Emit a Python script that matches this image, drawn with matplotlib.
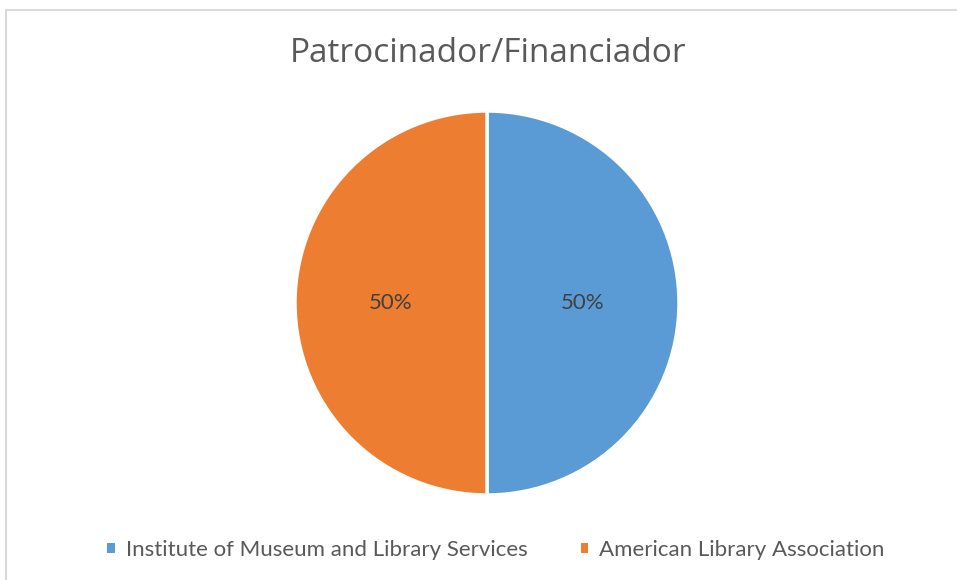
import matplotlib
matplotlib.use("Agg")

import matplotlib.pyplot as plt
from matplotlib.patches import Rectangle, Patch

title = "Patrocinador/Financiador"
labels = ["Institute of Museum and Library Services", "American Library Association"]
values = [50, 50]
colors = ["#5B9BD5", "#ED7D31"]

plt.rcParams["font.family"] = ["Lato", "DejaVu Sans"]

fig = plt.figure(figsize=(9.57, 5.8), dpi=100)
fig.patch.set_facecolor("white")

# marco (solo arriba e izquierda se ven en el recorte)
fig.patches.append(Rectangle((6 / 957, -0.05), 1.1, (570 / 580) + 0.05,
                             transform=fig.transFigure, fill=False,
                             edgecolor="#D9D9D9", linewidth=1.5))

ax = fig.add_axes([295 / 957, 85 / 580, 384 / 957, 384 / 580])
wedges, texts, autotexts = ax.pie(
    values, colors=colors, startangle=90, counterclock=False,
    autopct="%1.0f%%", pctdistance=0.5, radius=1,
    wedgeprops=dict(edgecolor="white", linewidth=2.5),
    textprops=dict(color="#404040", fontsize=16),
)
ax.set_xlim(-1, 1)
ax.set_ylim(-1, 1)
ax.set_aspect("equal")

fig.text(488 / 957, 1 - 54 / 580, title, ha="center", va="center",
         fontsize=24, color="#595959", family="Open Sans")

# cuadritos de la leyenda sin borde blanco
handles = [Patch(facecolor=c, edgecolor="none") for c in colors]
fig.legend(handles, labels, loc="center", bbox_to_anchor=(496 / 957, 1 - 550 / 580),
           ncol=2, frameon=False, fontsize=16, labelcolor="#595959",
           handlelength=0.33, handleheight=0.33, handletextpad=0.5,
           columnspacing=2.4)

fig.savefig("out.png", dpi=100)
